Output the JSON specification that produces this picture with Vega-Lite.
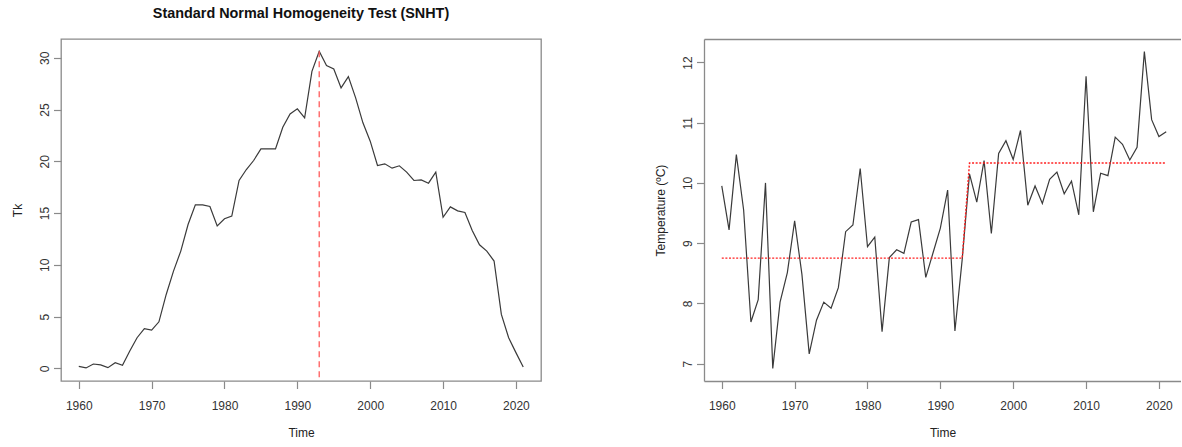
{
  "$schema": "https://vega.github.io/schema/vega-lite/v6.json",
  "padding": {"left": 10, "top": 5, "right": 0, "bottom": 0},
  "background": "white",
  "datasets": {
    "series": [
      {"year": 1960, "tk": 0.19, "temp": 9.95, "mean": 8.75},
      {"year": 1961, "tk": 0.04, "temp": 9.22, "mean": 8.75},
      {"year": 1962, "tk": 0.42, "temp": 10.47, "mean": 8.75},
      {"year": 1963, "tk": 0.33, "temp": 9.55, "mean": 8.75},
      {"year": 1964, "tk": 0.07, "temp": 7.69, "mean": 8.75},
      {"year": 1965, "tk": 0.55, "temp": 8.06, "mean": 8.75},
      {"year": 1966, "tk": 0.29, "temp": 10.0, "mean": 8.75},
      {"year": 1967, "tk": 1.68, "temp": 6.92, "mean": 8.75},
      {"year": 1968, "tk": 2.96, "temp": 8.02, "mean": 8.75},
      {"year": 1969, "tk": 3.83, "temp": 8.51, "mean": 8.75},
      {"year": 1970, "tk": 3.7, "temp": 9.37, "mean": 8.75},
      {"year": 1971, "tk": 4.5, "temp": 8.48, "mean": 8.75},
      {"year": 1972, "tk": 7.14, "temp": 7.16, "mean": 8.75},
      {"year": 1973, "tk": 9.4, "temp": 7.72, "mean": 8.75},
      {"year": 1974, "tk": 11.33, "temp": 8.02, "mean": 8.75},
      {"year": 1975, "tk": 13.9, "temp": 7.92, "mean": 8.75},
      {"year": 1976, "tk": 15.8, "temp": 8.26, "mean": 8.75},
      {"year": 1977, "tk": 15.8, "temp": 9.19, "mean": 8.75},
      {"year": 1978, "tk": 15.64, "temp": 9.3, "mean": 8.75},
      {"year": 1979, "tk": 13.77, "temp": 10.24, "mean": 8.75},
      {"year": 1980, "tk": 14.45, "temp": 8.94, "mean": 8.75},
      {"year": 1981, "tk": 14.71, "temp": 9.1, "mean": 8.75},
      {"year": 1982, "tk": 18.15, "temp": 7.53, "mean": 8.75},
      {"year": 1983, "tk": 19.21, "temp": 8.76, "mean": 8.75},
      {"year": 1984, "tk": 20.08, "temp": 8.89, "mean": 8.75},
      {"year": 1985, "tk": 21.2, "temp": 8.83, "mean": 8.75},
      {"year": 1986, "tk": 21.2, "temp": 9.35, "mean": 8.75},
      {"year": 1987, "tk": 21.2, "temp": 9.39, "mean": 8.75},
      {"year": 1988, "tk": 23.3, "temp": 8.43, "mean": 8.75},
      {"year": 1989, "tk": 24.58, "temp": 8.84, "mean": 8.75},
      {"year": 1990, "tk": 25.07, "temp": 9.25, "mean": 8.75},
      {"year": 1991, "tk": 24.2, "temp": 9.88, "mean": 8.75},
      {"year": 1992, "tk": 28.7, "temp": 7.54, "mean": 8.75},
      {"year": 1993, "tk": 30.64, "temp": 8.73, "mean": 8.75},
      {"year": 1994, "tk": 29.25, "temp": 10.15, "mean": 10.33},
      {"year": 1995, "tk": 28.93, "temp": 9.68, "mean": 10.33},
      {"year": 1996, "tk": 27.1, "temp": 10.37, "mean": 10.33},
      {"year": 1997, "tk": 28.19, "temp": 9.16, "mean": 10.33},
      {"year": 1998, "tk": 26.13, "temp": 10.49, "mean": 10.33},
      {"year": 1999, "tk": 23.72, "temp": 10.7, "mean": 10.33},
      {"year": 2000, "tk": 21.95, "temp": 10.39, "mean": 10.33},
      {"year": 2001, "tk": 19.6, "temp": 10.87, "mean": 10.33},
      {"year": 2002, "tk": 19.76, "temp": 9.63, "mean": 10.33},
      {"year": 2003, "tk": 19.34, "temp": 9.95, "mean": 10.33},
      {"year": 2004, "tk": 19.57, "temp": 9.66, "mean": 10.33},
      {"year": 2005, "tk": 18.96, "temp": 10.06, "mean": 10.33},
      {"year": 2006, "tk": 18.15, "temp": 10.18, "mean": 10.33},
      {"year": 2007, "tk": 18.21, "temp": 9.82, "mean": 10.33},
      {"year": 2008, "tk": 17.89, "temp": 10.03, "mean": 10.33},
      {"year": 2009, "tk": 18.96, "temp": 9.47, "mean": 10.33},
      {"year": 2010, "tk": 14.6, "temp": 11.77, "mean": 10.33},
      {"year": 2011, "tk": 15.6, "temp": 9.52, "mean": 10.33},
      {"year": 2012, "tk": 15.22, "temp": 10.16, "mean": 10.33},
      {"year": 2013, "tk": 15.06, "temp": 10.12, "mean": 10.33},
      {"year": 2014, "tk": 13.32, "temp": 10.76, "mean": 10.33},
      {"year": 2015, "tk": 11.94, "temp": 10.64, "mean": 10.33},
      {"year": 2016, "tk": 11.33, "temp": 10.38, "mean": 10.33},
      {"year": 2017, "tk": 10.37, "temp": 10.59, "mean": 10.33},
      {"year": 2018, "tk": 5.21, "temp": 12.18, "mean": 10.33},
      {"year": 2019, "tk": 2.96, "temp": 11.05, "mean": 10.33},
      {"year": 2020, "tk": 1.52, "temp": 10.77, "mean": 10.33},
      {"year": 2021, "tk": 0.13, "temp": 10.85, "mean": 10.33}
    ]
  },
  "data": {"name": "series"},
  "bounds": "flush",
  "spacing": 163,
  "hconcat": [
    {
      "width": 480,
      "height": 342,
      "view": {"stroke": "#8a8a8a", "strokeWidth": 1.3},
      "title": {
        "text": "Standard Normal Homogeneity Test (SNHT)",
        "font": "Liberation Sans",
        "fontSize": 14.4,
        "fontWeight": "bold",
        "color": "#111111",
        "anchor": "middle",
        "frame": "group",
        "baseline": "alphabetic",
        "offset": 6.3
      },
      "layer": [
        {
          "mark": {"type": "line", "color": "#3a3a3a", "strokeWidth": 1.2},
          "encoding": {
            "x": {
              "field": "year", "type": "quantitative",
              "scale": {"domain": [1957.56, 2023.44], "nice": false, "zero": false},
              "axis": {"title": "Time", "values": [1960, 1970, 1980, 1990, 2000, 2010, 2020], "format": "d", "domain": false}
            },
            "y": {
              "field": "tk", "type": "quantitative",
              "scale": {"domain": [-1.22, 31.82], "nice": false, "zero": false},
              "axis": {"title": "Tk", "values": [0, 5, 10, 15, 20, 25, 30], "domain": false}
            }
          }
        },
        {
          "transform": [{"filter": "datum.year == 1993"}],
          "mark": {"type": "rule", "color": "#ff5c5c", "strokeWidth": 1.3, "strokeDash": [6, 4]},
          "encoding": {
            "x": {"field": "year", "type": "quantitative"},
            "y": {"field": "tk", "type": "quantitative"},
            "y2": {"datum": -1.22}
          }
        }
      ]
    },
    {
      "width": 477,
      "height": 342,
      "view": {"stroke": null},
      "resolve": {"axis": {"x": "independent"}},
      "layer": [
        {
          "mark": {"type": "line", "color": "#3a3a3a", "strokeWidth": 1.2},
          "encoding": {
            "x": {
              "field": "year", "type": "quantitative",
              "scale": {"domain": [1957.56, 2023.03], "nice": false, "zero": false},
              "axis": {"title": "Time", "values": [1960, 1970, 1980, 1990, 2000, 2010, 2020], "format": "d", "domain": true}
            },
            "y": {
              "field": "temp", "type": "quantitative",
              "scale": {"domain": [6.71, 12.39], "nice": false, "zero": false},
              "axis": {"title": "Temperature (ºC)", "values": [7, 8, 9, 10, 11, 12], "domain": true}
            }
          }
        },
        {
          "mark": {"type": "line", "color": "#ff2020", "strokeWidth": 1.4, "strokeDash": [2, 1.6]},
          "encoding": {
            "x": {
              "field": "year", "type": "quantitative",
              "axis": {"orient": "top", "title": null, "labels": false, "ticks": false, "domain": true}
            },
            "y": {
              "field": "mean", "type": "quantitative",
              "axis": {"title": "Temperature (ºC)", "values": [7, 8, 9, 10, 11, 12], "domain": true}
            }
          }
        }
      ]
    }
  ],
  "config": {
    "font": "Liberation Sans",
    "view": {"stroke": null},
    "axis": {
      "grid": false,
      "labelFont": "Liberation Sans",
      "labelFontSize": 12,
      "labelColor": "#333333",
      "labelFlush": false,
      "labelOverlap": false,
      "titleFont": "Liberation Sans",
      "titleFontSize": 12,
      "titleFontWeight": "normal",
      "titleColor": "#222222",
      "tickColor": "#8a8a8a",
      "tickSize": 7.5,
      "tickWidth": 1.2,
      "domainColor": "#8a8a8a",
      "domainWidth": 1.3
    },
    "axisX": {
      "labelBaseline": "alphabetic",
      "labelPadding": 21.2,
      "titleBaseline": "alphabetic",
      "titlePadding": 25
    },
    "axisY": {
      "labelAngle": -90,
      "labelAlign": "center",
      "labelBaseline": "alphabetic",
      "labelPadding": 5,
      "titleBaseline": "alphabetic",
      "titlePadding": 17.4
    }
  }
}
